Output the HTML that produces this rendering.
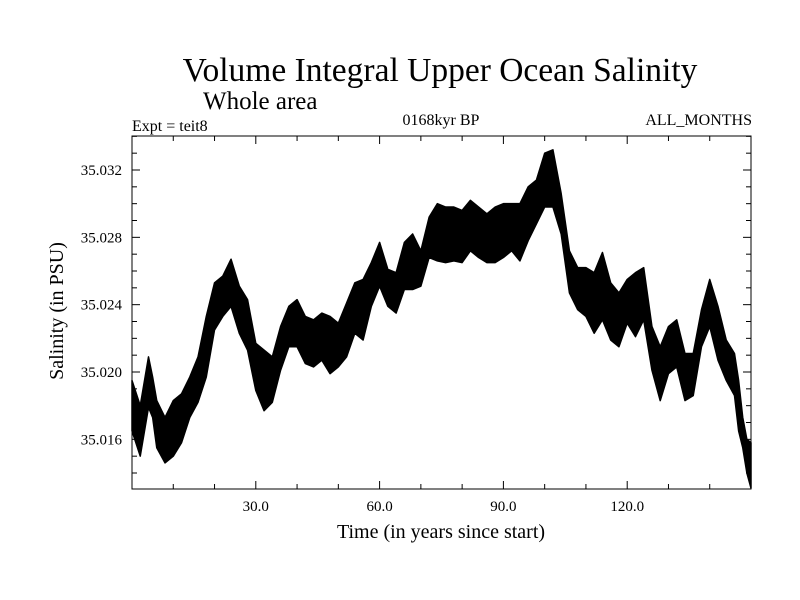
<!DOCTYPE html>
<html><head><meta charset="utf-8"><style>
body{margin:0;background:#fff}
svg{display:block;font-family:"Liberation Serif",serif}
</style></head><body>
<svg id="chart" width="800" height="600" viewBox="0 0 800 600">
<text x="440" y="81" font-size="33.5" text-anchor="middle">Volume Integral Upper Ocean Salinity</text>
<text x="203" y="109" font-size="25">Whole area</text>
<text x="132" y="131" font-size="16">Expt = teit8</text>
<text x="441" y="125" font-size="16" text-anchor="middle">0168kyr BP</text>
<text x="752" y="125" font-size="16" text-anchor="end">ALL_MONTHS</text>
<text x="441" y="538" font-size="20" text-anchor="middle">Time (in years since start)</text>
<text transform="translate(63,311) rotate(-90)" font-size="20" text-anchor="middle">Salinity (in PSU)</text>
<g id="marks"></g>
<g id="axes"></g>
</svg>
<script>
const years=[0,2,4,5,6,8,10,12,14,16,18,20,22,24,26,28,30,32,34,36,38,40,42,44,46,48,50,52,54,56,58,60,62,64,66,68,70,72,74,76,78,80,82,84,86,88,90,92,94,96,98,100,102,104,106,108,110,112,114,116,118,120,122,124,126,128,130,132,134,136,138,140,142,144,146,147,148,149,150];
const maxVals=[35.0195,35.0180,35.0209,35.0197,35.0183,35.0173,35.0183,35.0187,35.0197,35.0209,35.0233,35.0253,35.0257,35.0267,35.0251,35.0243,35.0217,35.0213,35.0209,35.0227,35.0239,35.0243,35.0233,35.0231,35.0235,35.0233,35.0229,35.0241,35.0253,35.0255,35.0265,35.0277,35.0261,35.0259,35.0277,35.0282,35.0272,35.0292,35.0300,35.0298,35.0298,35.0296,35.0302,35.0298,35.0294,35.0298,35.0300,35.0300,35.0300,35.0310,35.0314,35.0330,35.0332,35.0306,35.0272,35.0262,35.0262,35.0259,35.0271,35.0253,35.0247,35.0255,35.0259,35.0262,35.0227,35.0215,35.0227,35.0231,35.0211,35.0211,35.0237,35.0255,35.0239,35.0219,35.0211,35.0195,35.0173,35.0160,35.0158];
const minVals=[35.0165,35.0150,35.0179,35.0173,35.0155,35.0146,35.0150,35.0158,35.0173,35.0182,35.0197,35.0225,35.0233,35.0239,35.0223,35.0213,35.0189,35.0177,35.0182,35.0201,35.0215,35.0215,35.0205,35.0203,35.0207,35.0199,35.0203,35.0209,35.0223,35.0219,35.0239,35.0251,35.0239,35.0235,35.0249,35.0249,35.0251,35.0268,35.0266,35.0265,35.0266,35.0265,35.0272,35.0268,35.0265,35.0265,35.0268,35.0272,35.0266,35.0278,35.0288,35.0298,35.0298,35.0282,35.0247,35.0237,35.0233,35.0223,35.0231,35.0219,35.0215,35.0229,35.0221,35.0231,35.0201,35.0183,35.0199,35.0203,35.0183,35.0186,35.0215,35.0227,35.0207,35.0195,35.0186,35.0165,35.0155,35.0140,35.0131];
const xTickLabels=["30.0","60.0","90.0","120.0"];
const yTickLabels=["35.016","35.020","35.024","35.028","35.032"];

const NS="http://www.w3.org/2000/svg";
const L=132,R=751,T=136,B=489,X0=0,X1=150,Y0=35.01305,Y1=35.03402;
const sx=v=>L+(v-X0)/(X1-X0)*(R-L);
const sy=v=>B-(v-Y0)/(Y1-Y0)*(B-T);
const marks=document.getElementById('marks'),axes=document.getElementById('axes');
function mk(tag,attrs,parent){const e=document.createElementNS(NS,tag);for(const k in attrs)e.setAttribute(k,attrs[k]);parent.appendChild(e);return e;}

let pts=years.map((y,i)=>sx(y)+','+sy(maxVals[i]));
for(let i=years.length-1;i>=0;i--)pts.push(sx(years[i])+','+sy(minVals[i]));
const band=mk('polygon',{points:pts.join(' '),fill:'#000',stroke:'#000','stroke-width':1.5,'stroke-linejoin':'round'},marks);



const frame=mk('rect',{x:L,y:T,width:R-L,height:B-T,fill:'none',stroke:'#000','stroke-width':1},axes);



for(let v=10;v<150;v+=10){
  const x=sx(v),len=(v%30===0)?8:5;
  mk('line',{x1:x,y1:B,x2:x,y2:B-len,stroke:'#000'},axes);
  mk('line',{x1:x,y1:T,x2:x,y2:T+len,stroke:'#000'},axes);
}
xTickLabels.forEach(s=>{
  const t=mk('text',{x:sx(parseFloat(s)),y:B+22,'font-size':15,'text-anchor':'middle'},axes);
  t.textContent=s;
  
  
});
for(let k=14;k<=34;k++){
  const v=35+k/1000,y=sy(v),len=(k%4===0)?8:5;
  mk('line',{x1:L,y1:y,x2:L+len,y2:y,stroke:'#000'},axes);
  mk('line',{x1:R,y1:y,x2:R-len,y2:y,stroke:'#000'},axes);
}
yTickLabels.forEach(s=>{
  const t=mk('text',{x:L-10,y:sy(parseFloat(s))+5,'font-size':15,'text-anchor':'end'},axes);
  t.textContent=s;
  
  
});
</script>
</body></html>
